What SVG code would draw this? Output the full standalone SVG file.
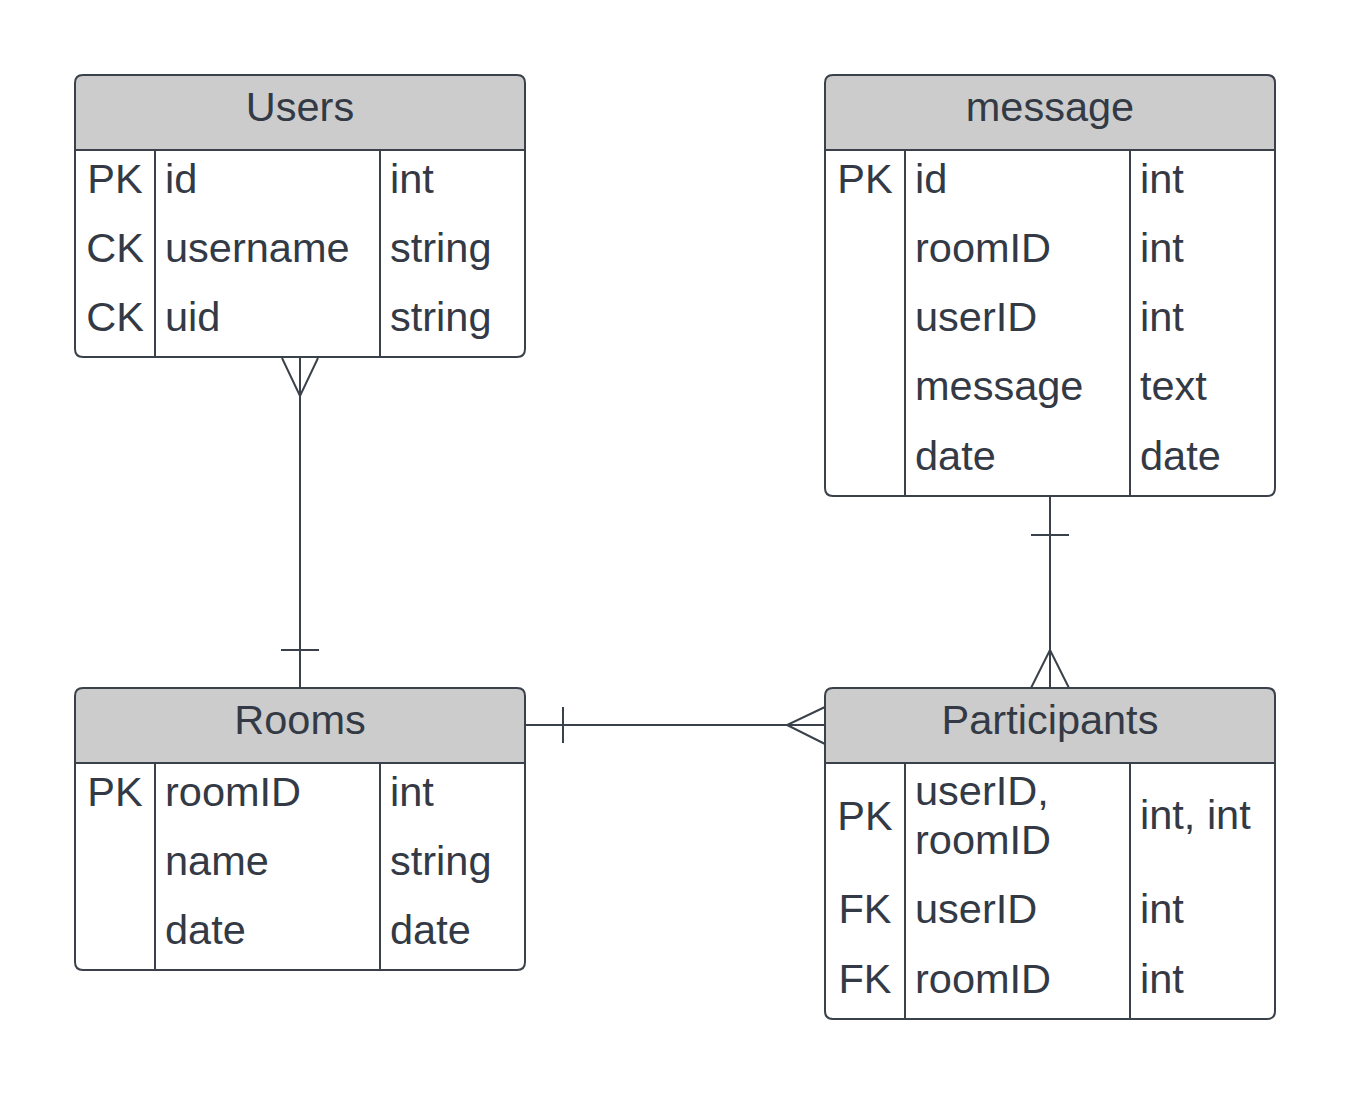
<svg xmlns="http://www.w3.org/2000/svg" width="1350" height="1095" viewBox="0 0 1350 1095">
<style>
.box{fill:#ffffff;stroke:#3a414a;stroke-width:2}
.hdr{fill:#cccccc;stroke:#3a414a;stroke-width:2}
.ln{stroke:#3a414a;stroke-width:2;fill:none}
text{font-family:"Liberation Sans",Arial,sans-serif;font-size:41.5px;fill:#333a45}
.c{text-anchor:middle}
</style>
<rect width="1350" height="1095" fill="#ffffff"/>
<g id="connectors">
  <path class="ln" d="M300 357 V688 M282 358 L300 396 L318 358 M281 650 H319"/>
  <path class="ln" d="M1050 496 V688 M1031 535 H1069 M1031 688 L1050 650 L1069 688"/>
  <path class="ln" d="M525 725 H825 M563 707 V743 M825 707 L787 725 L825 744"/>
</g>
<g id="users">
  <path class="hdr" d="M75 150 V83 Q75 75 83 75 H517 Q525 75 525 83 V150 Z"/>
  <path class="box" d="M75 150 H525 V349 Q525 357 517 357 H83 Q75 357 75 349 Z"/>
  <path class="ln" d="M155 150 V357 M380 150 V357"/>
  <text class="c" x="300" y="121">Users</text>
  <text class="c" x="115" y="193">PK</text><text x="165" y="193">id</text><text x="390" y="193">int</text>
  <text class="c" x="115" y="262">CK</text><text x="165" y="262">username</text><text x="390" y="262">string</text>
  <text class="c" x="115" y="331">CK</text><text x="165" y="331">uid</text><text x="390" y="331">string</text>
</g>
<g id="message">
  <path class="hdr" d="M825 150 V83 Q825 75 833 75 H1267 Q1275 75 1275 83 V150 Z"/>
  <path class="box" d="M825 150 H1275 V488 Q1275 496 1267 496 H833 Q825 496 825 488 Z"/>
  <path class="ln" d="M905 150 V496 M1130 150 V496"/>
  <text class="c" x="1050" y="121">message</text>
  <text class="c" x="865" y="193">PK</text><text x="915" y="193">id</text><text x="1140" y="193">int</text>
  <text x="915" y="262">roomID</text><text x="1140" y="262">int</text>
  <text x="915" y="331">userID</text><text x="1140" y="331">int</text>
  <text x="915" y="400">message</text><text x="1140" y="400">text</text>
  <text x="915" y="470">date</text><text x="1140" y="470">date</text>
</g>
<g id="rooms">
  <path class="hdr" d="M75 763 V696 Q75 688 83 688 H517 Q525 688 525 696 V763 Z"/>
  <path class="box" d="M75 763 H525 V962 Q525 970 517 970 H83 Q75 970 75 962 Z"/>
  <path class="ln" d="M155 763 V970 M380 763 V970"/>
  <text class="c" x="300" y="734">Rooms</text>
  <text class="c" x="115" y="806">PK</text><text x="165" y="806">roomID</text><text x="390" y="806">int</text>
  <text x="165" y="875">name</text><text x="390" y="875">string</text>
  <text x="165" y="944">date</text><text x="390" y="944">date</text>
</g>
<g id="participants">
  <path class="hdr" d="M825 763 V696 Q825 688 833 688 H1267 Q1275 688 1275 696 V763 Z"/>
  <path class="box" d="M825 763 H1275 V1011 Q1275 1019 1267 1019 H833 Q825 1019 825 1011 Z"/>
  <path class="ln" d="M905 763 V1019 M1130 763 V1019"/>
  <text class="c" x="1050" y="734">Participants</text>
  <text class="c" x="865" y="830">PK</text><text x="915" y="805">userID,</text><text x="915" y="854">roomID</text><text x="1140" y="829">int, int</text>
  <text class="c" x="865" y="923">FK</text><text x="915" y="923">userID</text><text x="1140" y="923">int</text>
  <text class="c" x="865" y="993">FK</text><text x="915" y="993">roomID</text><text x="1140" y="993">int</text>
</g>
</svg>
